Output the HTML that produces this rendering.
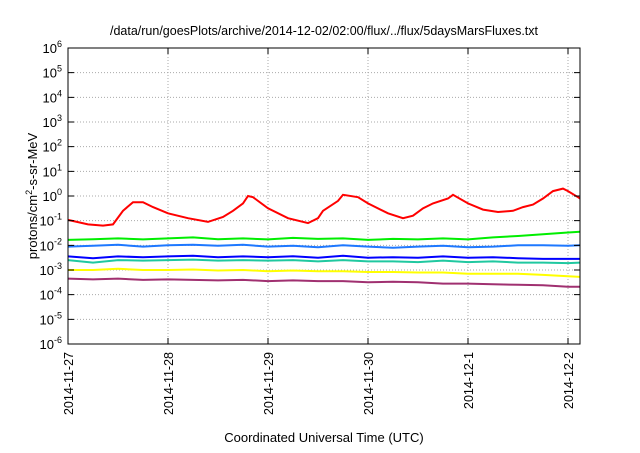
<!DOCTYPE html>
<html><head><meta charset="utf-8"><style>
body{margin:0;background:#fff;}
svg text{font-family:"Liberation Sans",sans-serif;fill:#000;}
</style></head><body>
<svg id="c" width="640" height="448" xmlns="http://www.w3.org/2000/svg">
<text x="324" y="35" font-size="12.5" text-anchor="middle">/data/run/goesPlots/archive/2014-12-02/02:00/flux/../flux/5daysMarsFluxes.txt</text>
<text x="324" y="442" font-size="13" text-anchor="middle">Coordinated Universal Time (UTC)</text>
<text transform="translate(37,196) rotate(-90)" font-size="13" text-anchor="middle">protons/cm<tspan dy="-5" font-size="9">2</tspan><tspan dy="5">-s-sr-MeV</tspan></text>
<g id="grid"></g><g id="series"></g><g id="axes"></g>
</svg>
<script>
const xTicks=["2014-11-27","2014-11-28","2014-11-29","2014-11-30","2014-12-1","2014-12-2"];
const yExps=[-6,-5,-4,-3,-2,-1,0,1,2,3,4,5,6];
const tDays=[0,0.2,0.35,0.45,0.55,0.65,0.75,0.85,1.0,1.2,1.4,1.55,1.65,1.75,1.8,1.85,2.0,2.2,2.4,2.5,2.55,2.7,2.75,2.9,3.0,3.2,3.35,3.45,3.55,3.65,3.8,3.85,4.0,4.15,4.3,4.45,4.55,4.65,4.75,4.85,4.95,5.0,5.1,5.12];
const redLog=[-0.97,-1.15,-1.2,-1.15,-0.6,-0.25,-0.25,-0.45,-0.7,-0.9,-1.05,-0.85,-0.6,-0.3,0,-0.05,-0.5,-0.9,-1.1,-0.9,-0.6,-0.2,0.05,-0.05,-0.3,-0.7,-0.9,-0.8,-0.5,-0.3,-0.1,0.05,-0.3,-0.55,-0.65,-0.6,-0.45,-0.35,-0.1,0.2,0.3,0.2,-0.05,-0.1];
const flatT=[0,0.25,0.5,0.75,1,1.25,1.5,1.75,2,2.25,2.5,2.75,3,3.25,3.5,3.75,4,4.25,4.5,4.75,5,5.12];
const greenLog=[-1.78,-1.75,-1.72,-1.76,-1.72,-1.68,-1.75,-1.72,-1.76,-1.7,-1.74,-1.72,-1.78,-1.74,-1.76,-1.72,-1.76,-1.68,-1.62,-1.55,-1.48,-1.45];
const lblueLog=[-2.05,-2.02,-1.98,-2.05,-2.0,-1.98,-2.02,-1.98,-2.05,-2.02,-2.08,-2.0,-2.05,-2.1,-2.05,-2.02,-2.08,-2.05,-2.0,-2.0,-2.02,-2.0];
const blueLog=[-2.45,-2.52,-2.45,-2.48,-2.45,-2.42,-2.48,-2.45,-2.48,-2.44,-2.5,-2.42,-2.5,-2.48,-2.5,-2.45,-2.5,-2.48,-2.52,-2.55,-2.55,-2.55];
const tealLog=[-2.6,-2.7,-2.6,-2.62,-2.6,-2.58,-2.62,-2.6,-2.62,-2.6,-2.65,-2.6,-2.65,-2.65,-2.68,-2.62,-2.68,-2.65,-2.7,-2.7,-2.72,-2.7];
const yellowLog=[-3.0,-3.0,-2.95,-3.0,-3.0,-2.98,-3.02,-3.0,-3.05,-3.02,-3.05,-3.05,-3.08,-3.08,-3.1,-3.1,-3.15,-3.15,-3.15,-3.2,-3.25,-3.28];
const purpleLog=[-3.35,-3.38,-3.35,-3.4,-3.38,-3.4,-3.42,-3.4,-3.45,-3.42,-3.45,-3.45,-3.5,-3.48,-3.5,-3.55,-3.55,-3.58,-3.6,-3.62,-3.68,-3.68];
const L=68,R=580,T=48,B=344,tMax=5.12;
const xs=d=>L+(R-L)*d/tMax, ys=v=>T+(B-T)*(6-v)/12;
const NS="http://www.w3.org/2000/svg";
function mk(tag,p,parent){const e=document.createElementNS(NS,tag);for(const k in p)e.setAttribute(k,p[k]);document.getElementById(parent).appendChild(e);return e;}
yExps.forEach(e=>{const y=ys(e);
 if(e>-6&&e<6){const g=mk('line',{x1:L,x2:R,y1:y,y2:y,stroke:'#aaa','stroke-dasharray':'1,2','stroke-width':1},'grid');
 
 }
 const tk=mk('path',{d:`M${L} ${y}h6M${R} ${y}h-6`,stroke:'#000'},'axes');
 
 
 const t=mk('text',{x:L-6,y:y+5,'font-size':13,'text-anchor':'end'},'axes');
 
 
 t.innerHTML='10<tspan dy="-6" font-size="9">'+e+'</tspan>';});
xTicks.forEach((s,i)=>{const x=xs(i);
 if(i>0){const g=mk('line',{x1:x,x2:x,y1:T,y2:B,stroke:'#aaa','stroke-dasharray':'1,2'},'grid');
 
 }
 const tk=mk('path',{d:`M${x} ${B}v-6M${x} ${T}v6`,stroke:'#000'},'axes');
 
 
 const t=mk('text',{transform:`translate(${x+5},${B+8}) rotate(-90)`,'font-size':12.5,'text-anchor':'end'},'axes');
 
 
 t.textContent=s;});
const fr=mk('rect',{x:L,y:T,width:R-L,height:B-T,fill:'none',stroke:'#000'},'axes');


const series=[[tDays,redLog,'#ff0000','red-series'],[flatT,greenLog,'#00ee00','green-series'],[flatT,lblueLog,'#1e78ff','light-blue-series'],[flatT,blueLog,'#0000ff','blue-series'],[flatT,tealLog,'#20c8a0','teal-series'],[flatT,yellowLog,'#ffff00','yellow-series'],[flatT,purpleLog,'#a03070','purple-series']];
series.forEach(([t,v,c,n])=>{const p=mk('polyline',{points:t.map((d,i)=>xs(d).toFixed(1)+','+ys(v[i]).toFixed(1)).join(' '),fill:'none',stroke:c,'stroke-width':2},'series');
 
 });
</script>
</body></html>
